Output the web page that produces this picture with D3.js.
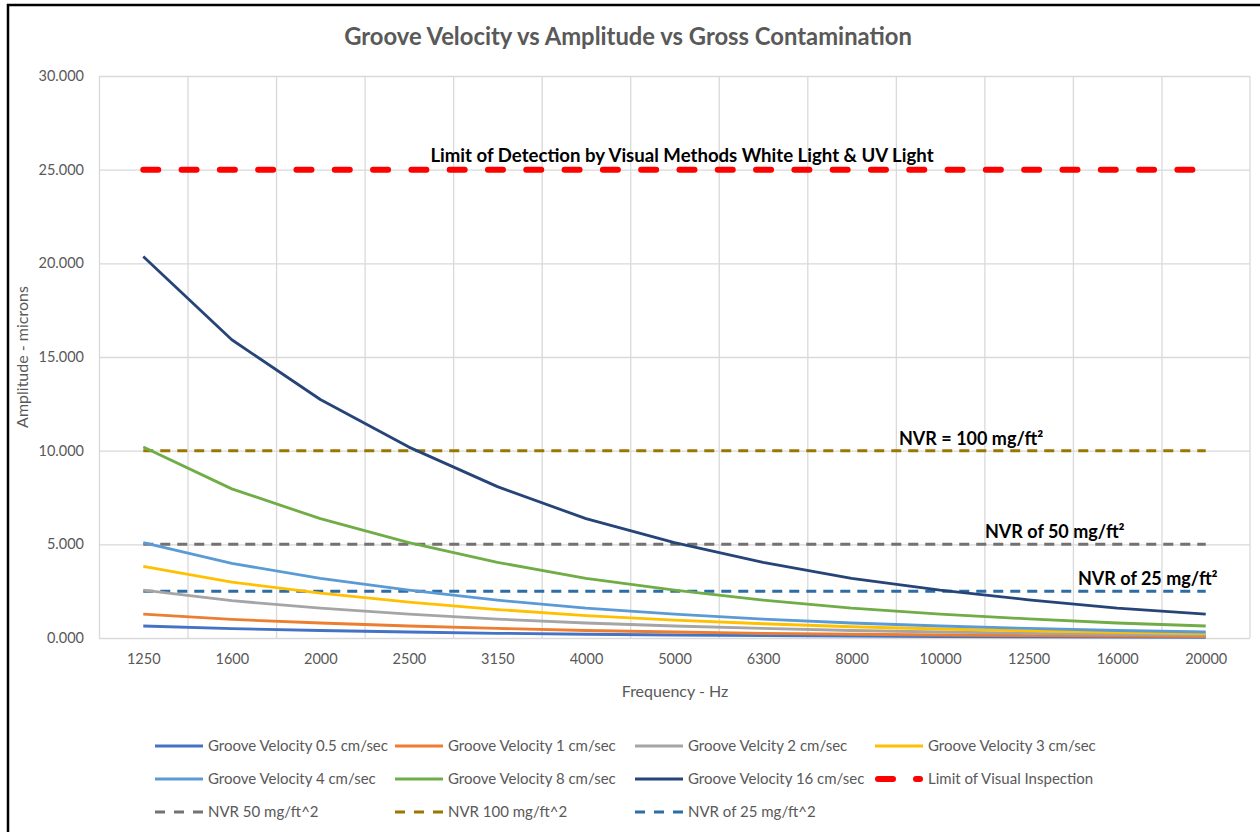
<!DOCTYPE html>
<html>
<head>
<meta charset="utf-8">
<script src="https://cdn.jsdelivr.net/npm/d3@7"></script>
<style>
  body { margin: 0; background: #fff; }
  text { font-family: Lato, "Open Sans", sans-serif; }
</style>
</head>
<body>
<div id="chart"></div>
<script>
// categories (frequency, Hz)
var frequencies = ['1250', '1600', '2000', '2500', '3150', '4000', '5000', '6300', '8000', '10000', '12500', '16000', '20000'];

// amplitude in microns
var gv05 = [0.64, 0.50, 0.40, 0.32, 0.25, 0.20, 0.16, 0.13, 0.10, 0.08, 0.06, 0.05, 0.04];
var gv1 = [1.27, 0.99, 0.80, 0.64, 0.51, 0.40, 0.32, 0.25, 0.20, 0.16, 0.13, 0.10, 0.08];
var gv2 = [2.55, 1.99, 1.59, 1.27, 1.01, 0.80, 0.64, 0.51, 0.40, 0.32, 0.25, 0.20, 0.16];
var gv3 = [3.82, 2.98, 2.39, 1.91, 1.52, 1.19, 0.95, 0.76, 0.60, 0.48, 0.38, 0.30, 0.24];
var gv4 = [5.09, 3.98, 3.18, 2.55, 2.02, 1.59, 1.27, 1.01, 0.80, 0.64, 0.51, 0.40, 0.32];
var gv8 = [10.19, 7.96, 6.37, 5.09, 4.04, 3.18, 2.55, 2.02, 1.59, 1.27, 1.02, 0.80, 0.64];
var gv16 = [20.37, 15.92, 12.73, 10.19, 8.08, 6.37, 5.09, 4.04, 3.18, 2.55, 2.04, 1.59, 1.27];

// constant reference levels
var visualLimit = 25;
var nvr50 = 5;
var nvr100 = 10;
var nvr25 = 2.5;

var yTicks = [0, 5, 10, 15, 20, 25, 30];

var svgWidth = 1260;
var svgHeight = 832;

// plot area
var plot = { left: 99, right: 1250, top: 76, bottom: 638 };

var svg = d3.select('#chart')
    .append('svg')
    .attr('width', svgWidth)
    .attr('height', svgHeight);

// outer frame (only top & left visible in the picture)
svg.append('rect')
    .attr('x', 8)
    .attr('y', 5)
    .attr('width', 1270)
    .attr('height', 840)
    .attr('fill', 'none')
    .attr('stroke', '#000')
    .attr('stroke-width', 2.5);

var xBand = d3.scaleBand()
    .domain(frequencies)
    .range([plot.left, plot.right]);

var xScale = d3.scalePoint()
    .domain(frequencies)
    .range([plot.left, plot.right])
    .padding(0.5);

var yScale = d3.scaleLinear()
    .domain([0, 30])
    .range([plot.bottom, plot.top]);

// vertical gridlines at category boundaries
var xGrid = d3.axisBottom(xBand)
    .tickSize(-(plot.bottom - plot.top))
    .tickFormat('');

var xGridG = svg.append('g')
    .attr('transform', `translate(0, ${plot.bottom})`)
    .call(xGrid);
xGridG.select('.domain').remove();
xGridG.selectAll('.tick').attr('transform', d => `translate(${xBand(d) + 0.5}, 0)`);
xGridG.selectAll('.tick line').attr('stroke', '#d9d9d9').attr('stroke-width', 1.3);
// right border of plot
svg.append('line')
    .attr('x1', plot.right).attr('x2', plot.right)
    .attr('y1', plot.top).attr('y2', plot.bottom)
    .attr('stroke', '#d9d9d9').attr('stroke-width', 1.3);

// horizontal gridlines + y labels
var leftAxis = d3.axisLeft(yScale)
    .tickValues(yTicks)
    .tickSize(-(plot.right - plot.left))
    .tickPadding(15)
    .tickFormat(d3.format('.3f'));

var yAxisG = svg.append('g')
    .attr('transform', `translate(${plot.left}, 0)`)
    .call(leftAxis);
yAxisG.select('.domain').remove();
yAxisG.selectAll('.tick line').attr('stroke', '#d9d9d9').attr('stroke-width', 1.3);
yAxisG.selectAll('.tick text')
    .attr('fill', '#595959')
    .attr('font-size', 14.5);

// x labels
var bottomAxis = d3.axisBottom(xScale).tickSize(0).tickPadding(16);
var xAxisG = svg.append('g')
    .attr('transform', `translate(0, ${plot.bottom})`)
    .call(bottomAxis);
xAxisG.select('.domain').remove();
xAxisG.selectAll('.tick text')
    .attr('fill', '#595959')
    .attr('font-size', 14.5);

// series
var series = [
    { name: 'Groove Velocity 0.5 cm/sec', values: gv05, color: '#4472c4' },
    { name: 'Groove Velocity 1 cm/sec', values: gv1, color: '#ed7d31' },
    { name: 'Groove Velcity 2 cm/sec', values: gv2, color: '#a5a5a5' },
    { name: 'Groove Velocity 3 cm/sec', values: gv3, color: '#ffc000' },
    { name: 'Groove Velocity 4 cm/sec', values: gv4, color: '#5b9bd5' },
    { name: 'Groove Velocity 8 cm/sec', values: gv8, color: '#70ad47' },
    { name: 'Groove Velocity 16 cm/sec', values: gv16, color: '#264478' }
];

var refs = [
    { name: 'Limit of Visual Inspection', level: visualLimit, color: '#ff0000', width: 6, dash: '15,23.3', cap: 'round' },
    { name: 'NVR 50 mg/ft^2', level: nvr50, color: '#767171', width: 3, dash: '10,7', cap: 'butt' },
    { name: 'NVR 100 mg/ft^2', level: nvr100, color: '#9c7700', width: 3, dash: '10,7', cap: 'butt' },
    { name: 'NVR of 25 mg/ft^2', level: nvr25, color: '#2e6da4', width: 3, dash: '10,7', cap: 'butt' }
];

var line = d3.line()
    .x((d, i) => xScale(frequencies[i]))
    .y(d => yScale(d));

// reference lines drawn first (NVR lines under the curves)
refs.forEach(r => {
    svg.append('path')
        .attr('d', line(frequencies.map(() => r.level)))
        .attr('fill', 'none')
        .attr('stroke', r.color)
        .attr('stroke-width', r.width)
        .attr('stroke-dasharray', r.dash)
        .attr('stroke-linecap', r.cap);
});

series.forEach(s => {
    svg.append('path')
        .attr('d', line(s.values))
        .attr('fill', 'none')
        .attr('stroke', s.color)
        .attr('stroke-width', 2.8)
        .attr('stroke-linejoin', 'round');
});

// title
svg.append('text')
    .attr('x', 628)
    .attr('y', 45)
    .attr('text-anchor', 'middle')
    .attr('font-size', 23.8)
    .attr('font-weight', 'bold')
    .attr('fill', '#595959')
    .text('Groove Velocity vs Amplitude vs Gross Contamination');

// axis titles
svg.append('text')
    .attr('x', 675)
    .attr('y', 697)
    .attr('text-anchor', 'middle')
    .attr('font-size', 16)
    .attr('fill', '#595959')
    .text('Frequency - Hz');

svg.append('text')
    .attr('transform', 'translate(28, 357) rotate(-90)')
    .attr('text-anchor', 'middle')
    .attr('font-size', 16)
    .attr('fill', '#595959')
    .text('Amplitude - microns');

// annotations
var notes = [
    { text: 'Limit of Detection by Visual Methods White Light & UV Light', x: 682, y: 162, anchor: 'middle', size: 18.6 },
    { text: 'NVR = 100 mg/ft²', x: 899, y: 445, anchor: 'start', size: 18 },
    { text: 'NVR of 50 mg/ft²', x: 985, y: 538, anchor: 'start', size: 18 },
    { text: 'NVR of 25 mg/ft²', x: 1078, y: 585, anchor: 'start', size: 18 }
];

svg.selectAll('.note')
    .data(notes)
    .enter()
    .append('text')
    .attr('class', 'note')
    .attr('x', d => d.x)
    .attr('y', d => d.y)
    .attr('text-anchor', d => d.anchor)
    .attr('font-size', d => d.size)
    .attr('font-weight', 'bold')
    .attr('fill', '#000')
    .text(d => d.text);

// legend
var legendItems = [
    series[0], series[1], series[2], series[3],
    series[4], series[5], series[6], refs[0],
    refs[1], refs[2], refs[3]
];
var legendCols = [155, 395, 635, 875];
var legendRows = [746, 779, 812];

var legend = svg.selectAll('.legend')
    .data(legendItems)
    .enter()
    .append('g')
    .attr('class', 'legend')
    .attr('transform', (d, i) => `translate(${legendCols[i % 4]}, ${legendRows[Math.floor(i / 4)]})`);

legend.append('line')
    .attr('x1', d => d.cap === 'round' ? 3 : 0)
    .attr('x2', d => d.cap === 'round' ? 45 : 48)
    .attr('stroke', d => d.color)
    .attr('stroke-width', d => d.width || 2.8)
    .attr('stroke-dasharray', d => d.dash ? (d.cap === 'round' ? '15,23' : '10,9') : null)
    .attr('stroke-linecap', d => d.cap || 'butt');

legend.append('text')
    .attr('x', 53)
    .attr('dy', '0.35em')
    .attr('font-size', 15)
    .attr('fill', '#595959')
    .text(d => d.name);
</script>
</body>
</html>
